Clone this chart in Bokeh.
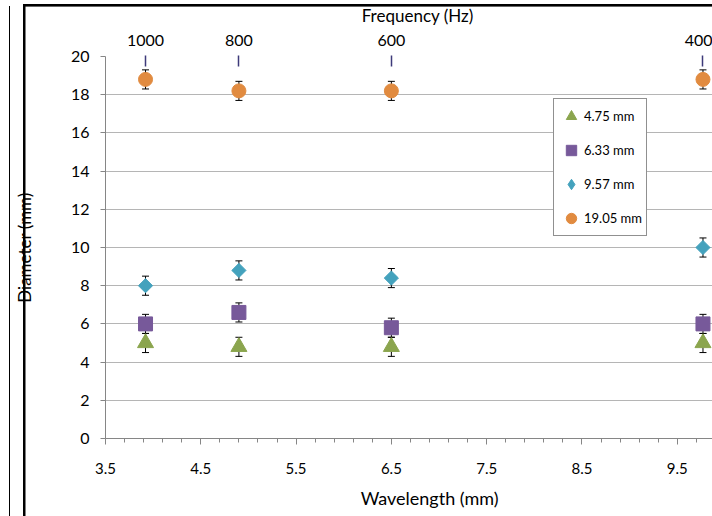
import numpy as np
from bokeh.plotting import figure
from bokeh.models import (LinearAxis, FixedTicker, Range1d, Whisker, TeeHead,
                          ColumnDataSource, Legend, LegendItem)
from bokeh.embed import file_html
from bokeh.resources import INLINE

# ---- data ----
wavelength = [3.92, 4.90, 6.50, 9.77]          # mm
frequency_labels = ["1000", "800", "600", "400"]  # Hz
d_475 = [5.0, 4.8, 4.8, 5.0]
d_633 = [6.0, 6.6, 5.8, 6.0]
d_957 = [8.0, 8.8, 8.4, 10.0]
d_1905 = [18.8, 18.2, 18.2, 18.8]
err_475 = [0.5, 0.5, 0.5, 0.5]
err_633 = [0.5, 0.5, 0.5, 0.5]
err_957 = [0.5, 0.5, 0.5, 0.5]
err_1905 = [0.5, 0.5, 0.5, 0.5]
series_labels = ["4.75 mm", "6.33 mm", "9.57 mm", "19.05 mm"]
x_tick_values = [3.5, 4.5, 5.5, 6.5, 7.5, 8.5, 9.5]
y_tick_values = [0, 2, 4, 6, 8, 10, 12, 14, 16, 18, 20]

FONT = "Lato"
TXT = "#000000"
AXC = "#868686"
NB = "\u00a0"

p = figure(width=712, height=516, x_range=Range1d(3.5, 9.87), y_range=Range1d(0, 20),
           toolbar_location=None, output_backend="svg",
           min_border_left=105, min_border_right=0, min_border_top=56, min_border_bottom=78,
           x_axis_location=None, y_axis_location=None)
p.outline_line_color = None
p.background_fill_color = "white"
p.border_fill_color = None
# black edges of the screenshot crop
p.styles = {
    "background-color": "white",
    "background-image": "linear-gradient(#000,#000), linear-gradient(#000,#000), linear-gradient(#000,#000)",
    "background-size": "1.4px 100%, 2.5px 100%, 100% 2.6px",
    "background-position": "8.6px 6px, 23px 4px, 23px 4px",
    "background-repeat": "no-repeat",
}

# bottom axis
xa = LinearAxis(axis_label=NB * 9 + "Wavelength (mm)")
xa.ticker = FixedTicker(ticks=x_tick_values,
                        minor_ticks=list(np.round(np.arange(3.5, 9.9, 0.2), 2)))
xa.axis_line_color = AXC
xa.major_tick_line_color = AXC
xa.minor_tick_line_color = AXC
xa.major_tick_in = 0
xa.major_tick_out = 6
xa.minor_tick_in = 0
xa.minor_tick_out = 4
xa.major_label_standoff = 18
xa.major_label_text_font = FONT
xa.major_label_text_font_size = "15px"
xa.major_label_text_color = TXT
xa.axis_label_text_font = FONT
xa.axis_label_text_font_style = "normal"
xa.axis_label_text_font_size = "18px"
xa.axis_label_text_color = TXT
xa.axis_label_standoff = 10
p.add_layout(xa, "below")

# left axis
ya = LinearAxis(axis_label="Diameter (mm)")
ya.ticker = FixedTicker(ticks=y_tick_values, minor_ticks=[])
ya.axis_line_color = AXC
ya.major_tick_line_color = AXC
ya.major_tick_in = 0
ya.major_tick_out = 5
ya.major_label_standoff = 11
ya.major_label_text_font = FONT
ya.major_label_text_font_size = "16px"
ya.major_label_text_color = TXT
ya.axis_label_text_font = FONT
ya.axis_label_text_font_style = "normal"
ya.axis_label_text_font_size = "17px"
ya.axis_label_text_color = TXT
ya.axis_label_standoff = 33
p.add_layout(ya, "left")

# top (frequency) axis
ta = LinearAxis(axis_label=NB * 4 + "Frequency (Hz)")
ta.ticker = FixedTicker(ticks=wavelength, minor_ticks=[])
ta.major_label_overrides = {w: f for w, f in zip(wavelength, frequency_labels)}
ta.axis_line_color = None
ta.major_tick_line_color = "#3d3a7a"
ta.major_tick_line_width = 1.5
ta.major_tick_in = 10
ta.major_tick_out = 1
ta.minor_tick_line_color = None
ta.major_label_standoff = 10
ta.major_label_text_font = FONT
ta.major_label_text_font_size = "16px"
ta.major_label_text_color = TXT
ta.axis_label_text_font = FONT
ta.axis_label_text_font_style = "normal"
ta.axis_label_text_font_size = "17px"
ta.axis_label_text_color = TXT
ta.axis_label_standoff = 6
p.add_layout(ta, "above")

p.xgrid.visible = False
p.ygrid.ticker = FixedTicker(ticks=y_tick_values)
p.ygrid.grid_line_color = "#b5b5b5"
p.ygrid.grid_line_width = 1

colors = ["#8ba54e", "#77599a", "#44a2bd", "#e18b40"]
values = [d_475, d_633, d_957, d_1905]
errors = [err_475, err_633, err_957, err_1905]

# error bars
for vals, errs in zip(values, errors):
    src = ColumnDataSource(dict(x=wavelength,
                                upper=[v + e for v, e in zip(vals, errs)],
                                lower=[v - e for v, e in zip(vals, errs)]))
    w = Whisker(source=src, base="x", upper="upper", lower="lower", dimension="height",
                line_color="black", line_width=1, level="underlay",
                upper_head=TeeHead(size=7, line_color="black", line_width=1),
                lower_head=TeeHead(size=7, line_color="black", line_width=1))
    p.add_layout(w)

r1 = p.scatter(wavelength, d_475, marker="triangle", size=16, color=colors[0])
r2 = p.scatter(wavelength, d_633, marker="square", size=14, color=colors[1])
r3 = p.scatter(wavelength, d_957, marker="square", size=10, angle=np.pi / 4, color=colors[2])
# diamond glyph (hidden under the rotated squares) used for the legend entry
r3l = p.scatter(wavelength, d_957, marker="diamond", size=8, color=colors[2])
r4 = p.scatter(wavelength, d_1905, marker="circle", size=14, color=colors[3])

legend = Legend(items=[LegendItem(label=l, renderers=[r]) for l, r in
                       zip(series_labels, [r1, r2, r3l, r4])],
                location=(448, 202))
legend.border_line_color = "#222222"
legend.border_line_width = 1
legend.background_fill_color = "white"
legend.background_fill_alpha = 1
legend.label_text_font = FONT
legend.label_text_font_size = "13px"
legend.label_text_color = TXT
legend.glyph_width = 26
legend.glyph_height = 26
legend.label_height = 26
legend.label_standoff = 0
legend.spacing = 8
legend.padding = 4
legend.margin = 0
p.add_layout(legend, "center")

open("out.html", "w").write(file_html(p, INLINE))
